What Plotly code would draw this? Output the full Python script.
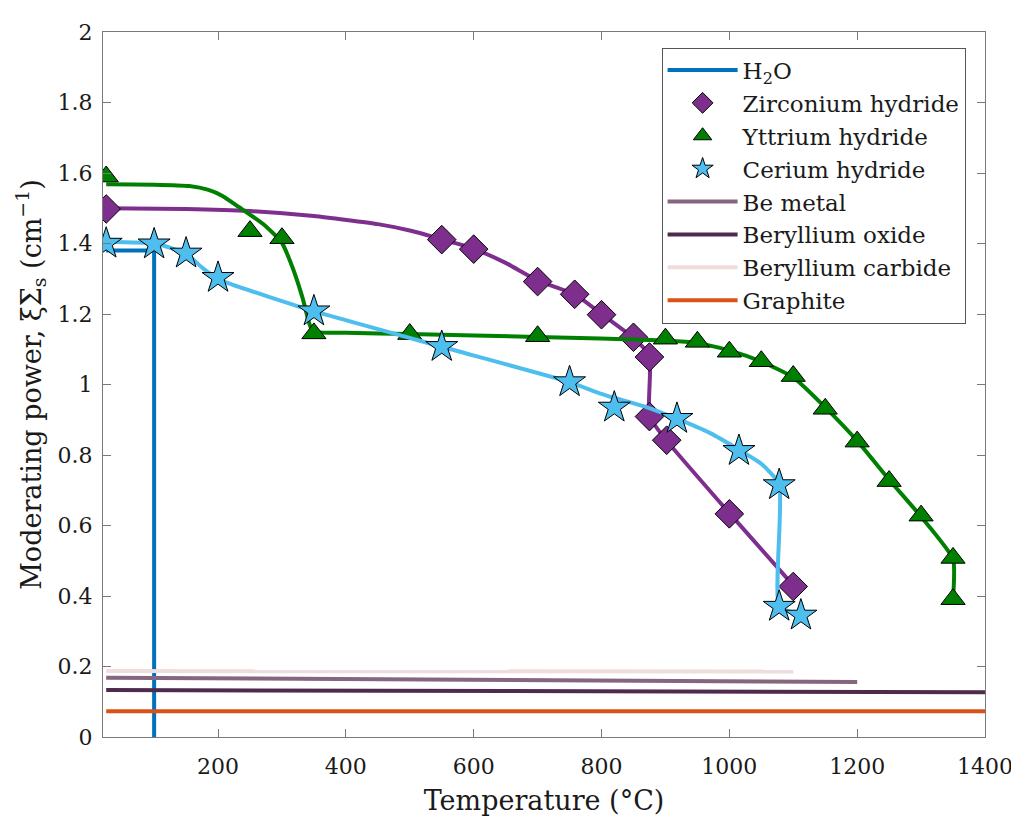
import plotly.graph_objects as go

# ---------------- data ----------------
h2o_x = [25, 100, 100]
h2o_y = [1.38, 1.38, 0.0]

zr_x = [25, 550, 600, 700, 758, 800, 850, 875, 875, 902, 1000, 1100]
zr_y = [1.498, 1.411, 1.384, 1.292, 1.256, 1.198, 1.134, 1.078, 0.909, 0.842, 0.633, 0.427]
zr_fit_x = [25, 150, 250, 350, 450, 500, 550, 600, 650, 700, 758, 800, 850, 875, 875, 900, 1000, 1100]
zr_fit_y = [1.500, 1.498, 1.492, 1.478, 1.455, 1.437, 1.412, 1.385, 1.345, 1.295, 1.256, 1.200, 1.132, 1.082, 0.910, 0.845, 0.635, 0.430]

y_x = [25, 250, 300, 350, 500, 700, 900, 950, 1000, 1050, 1100, 1150, 1200, 1250, 1300, 1350, 1350]
y_y = [1.59, 1.435, 1.415, 1.145, 1.143, 1.137, 1.130, 1.121, 1.093, 1.066, 1.024, 0.931, 0.838, 0.726, 0.628, 0.508, 0.391]
y_fit_x = [25, 100, 155, 185, 207, 233, 270, 299, 317, 332, 343, 349, 400, 500, 700, 900, 950, 1000, 1050, 1100, 1150, 1200, 1250, 1300, 1350, 1350]
y_fit_y = [1.568, 1.567, 1.563, 1.552, 1.535, 1.503, 1.456, 1.405, 1.330, 1.247, 1.172, 1.150, 1.147, 1.143, 1.135, 1.125, 1.118, 1.097, 1.065, 1.020, 0.935, 0.840, 0.730, 0.625, 0.505, 0.390]

ce_x = [25, 100, 150, 200, 350, 550, 750, 820, 918, 1015, 1078, 1078, 1112]
ce_y = [1.40, 1.398, 1.372, 1.303, 1.208, 1.107, 1.007, 0.935, 0.903, 0.812, 0.715, 0.370, 0.345]
ce_fit_x = [25, 100, 128, 155, 176, 197, 218, 350, 550, 750, 797, 818, 870, 918, 970, 1015, 1050, 1078, 1078, 1112]
ce_fit_y = [1.405, 1.400, 1.386, 1.364, 1.330, 1.303, 1.286, 1.208, 1.107, 1.007, 0.975, 0.963, 0.936, 0.903, 0.862, 0.815, 0.775, 0.717, 0.371, 0.346]

bemetal_x = [25, 1200]
bemetal_y = [0.168, 0.156]
beo_x = [25, 1400]
beo_y = [0.133, 0.127]
be2c_x = [25, 1100]
be2c_y = [0.187, 0.186]
graphite_x = [25, 1400]
graphite_y = [0.073, 0.073]

x_ticks = [200, 400, 600, 800, 1000, 1200, 1400]
y_ticks = [0, 0.2, 0.4, 0.6, 0.8, 1, 1.2, 1.4, 1.6, 1.8, 2]

# ---------------- styles ----------------
C_H2O = "#0072BD"
C_ZR = "#7E2F8E"
C_Y = "#008000"
C_CE = "#4DBEEE"
C_BEM = "#86657F"
C_BEO = "#4E2A4C"
C_BE2C = "#EFDCDC"
C_GR = "#D95319"
LW = 4
FONT = "DejaVu Serif, Liberation Serif, serif"
TXT = "#1a1a1a"


def fit_line(xs, ys, color):
    return go.Scatter(x=xs, y=ys, mode="lines", showlegend=False, hoverinfo="skip",
                      line=dict(color=color, width=LW, shape="spline", smoothing=0.5))


fig = go.Figure()

fig.add_trace(go.Scatter(x=h2o_x, y=h2o_y, mode="lines", name="H<sub>2</sub>O",
                         line=dict(color=C_H2O, width=LW), legendrank=1))

fig.add_trace(fit_line(zr_fit_x, zr_fit_y, C_ZR))
fig.add_trace(go.Scatter(x=zr_x, y=zr_y, mode="markers", name="Zirconium hydride",
                         marker=dict(symbol="diamond", size=22, color=C_ZR,
                                     line=dict(color="black", width=1)), legendrank=2))

fig.add_trace(fit_line(y_fit_x, y_fit_y, C_Y))
fig.add_trace(go.Scatter(x=y_x, y=y_y, mode="markers", name="Yttrium hydride",
                         marker=dict(symbol="triangle-up", size=21, color=C_Y,
                                     line=dict(color="black", width=1)), legendrank=3))

fig.add_trace(fit_line(ce_fit_x, ce_fit_y, C_CE))
fig.add_trace(go.Scatter(x=ce_x, y=ce_y, mode="markers", name="Cerium hydride",
                         marker=dict(symbol="star", size=24, color=C_CE,
                                     line=dict(color="black", width=1)), legendrank=4))

fig.add_trace(go.Scatter(x=bemetal_x, y=bemetal_y, mode="lines", name="Be metal",
                         line=dict(color=C_BEM, width=LW), legendrank=5))
fig.add_trace(go.Scatter(x=beo_x, y=beo_y, mode="lines", name="Beryllium oxide",
                         line=dict(color=C_BEO, width=LW), legendrank=6))
fig.add_trace(go.Scatter(x=be2c_x, y=be2c_y, mode="lines", name="Beryllium carbide",
                         line=dict(color=C_BE2C, width=LW), legendrank=7))
fig.add_trace(go.Scatter(x=graphite_x, y=graphite_y, mode="lines", name="Graphite",
                         line=dict(color=C_GR, width=LW), legendrank=8))

axis_common = dict(showline=True, linecolor="#7a7a7a", linewidth=1, mirror="ticks",
                   ticks="inside", ticklen=8, tickcolor="#7a7a7a", showgrid=False,
                   zeroline=False, ticklabeloverflow="allow",
                   tickfont=dict(family=FONT, size=22, color=TXT))

fig.update_layout(
    width=1019, height=821,
    margin=dict(l=95, r=42, t=12, b=92),
    paper_bgcolor="white", plot_bgcolor="white",
    font=dict(family=FONT, color=TXT),
    xaxis=dict(range=[20, 1400], tickvals=x_ticks, ticklabelstandoff=10,
               title=dict(text="Temperature (°C)", font=dict(family=FONT, size=27), standoff=12),
               **axis_common),
    yaxis=dict(range=[0, 2], tickvals=y_ticks, ticklabelstandoff=5,
               title=dict(text="Moderating power, ξΣ<sub>s</sub> (cm<sup>−1</sup>)",
                          font=dict(family=FONT, size=27), standoff=8),
               **axis_common),
    legend=dict(x=0.978, y=0.978, xanchor="right", yanchor="top",
                bordercolor="#555555", borderwidth=1, bgcolor="white",
                font=dict(family=FONT, size=23, color=TXT),
                itemwidth=70, tracegroupgap=0),
)

fig.write_html("out.html")
